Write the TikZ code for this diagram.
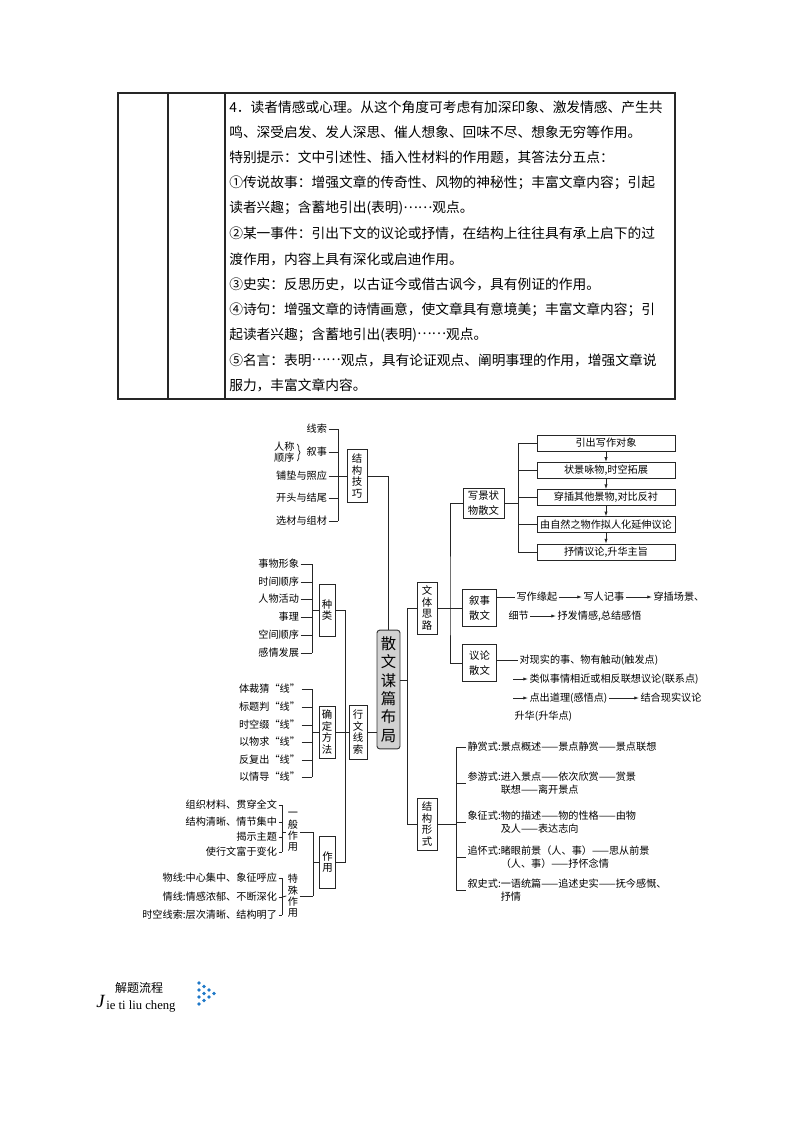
\documentclass[tikz,border=0pt]{standalone}
\usepackage{fontspec}
\setmainfont{Liberation Serif}
\newfontfamily\cjk{Noto Sans CJK SC}
\usetikzlibrary{positioning, arrows.meta, decorations.pathreplacing}
\definecolor{dotblue}{RGB}{30,120,200}
\newcommand\zhdots{\raisebox{0.33em}{……}}

\begin{document}
\begin{tikzpicture}[x=0.75pt, y=-0.75pt,
  tabline/.style={draw=black!85, line width=0.8pt},
  tabtext/.style={font=\cjk\fontsize{10.3}{12}\selectfont, inner sep=0pt, anchor=west},
  conn/.style={draw=black!85, line width=0.6pt},
  arr/.style={conn, -{Latex[length=3.5pt, width=2.4pt]}},
  leaf/.style={font=\cjk\fontsize{7.6}{9.75}\selectfont, inner sep=1pt, align=left},
  vtext/.style={font=\cjk\fontsize{7.6}{8.5}\selectfont, inner sep=1pt, align=center},
  vbox/.style={draw=black!85, line width=0.6pt, fill=white, inner sep=0pt,
               minimum width=12pt, minimum height=39pt, align=center,
               font=\cjk\fontsize{7.8}{8.8}\selectfont},
  wbox/.style={vbox, minimum width=15pt},
  hbox/.style={draw=black!85, line width=0.6pt, fill=white, inner sep=0pt, align=center,
               font=\cjk\fontsize{7.8}{11.2}\selectfont},
  stepbox/.style={hbox, minimum width=103.5pt, minimum height=12pt, font=\cjk\fontsize{7.6}{9}\selectfont},
  hub/.style={draw=black!80, line width=0.7pt, fill=black!18, rounded corners=2pt,
              minimum width=17.25pt, minimum height=89pt, inner sep=0pt, align=center,
              font=\cjk\fontsize{11.5}{13.7}\selectfont},
]

\useasboundingbox (0,0) rectangle (794,1123);

% Table
\draw[tabline] (118,93) rectangle (675,399);
\draw[tabline] (168,93) -- (168,399);
\draw[tabline] (225,93) -- (225,399);
\foreach \ln [count=\i] in {
  {4．读者情感或心理。从这个角度可考虑有加深印象、激发情感、产生共},
  {鸣、深受启发、发人深思、催人想象、回味不尽、想象无穷等作用。},
  {特别提示：文中引述性、插入性材料的作用题，其答法分五点：},
  {①传说故事：增强文章的传奇性、风物的神秘性；丰富文章内容；引起},
  {读者兴趣；含蓄地引出(表明)\zhdots 观点。},
  {②某一事件：引出下文的议论或抒情，在结构上往往具有承上启下的过},
  {渡作用，内容上具有深化或启迪作用。},
  {③史实：反思历史，以古证今或借古讽今，具有例证的作用。},
  {④诗句：增强文章的诗情画意，使文章具有意境美；丰富文章内容；引},
  {起读者兴趣；含蓄地引出(表明)\zhdots 观点。},
  {⑤名言：表明\zhdots 观点，具有论证观点、阐明事理的作用，增强文章说},
  {服力，丰富文章内容。}}
  \node[tabtext] (t\i) at (229, 82+25.3*\i) {\ln};

% Centre
\node[hub] (hub) at (388.5,689.5) {散\\文\\谋\\篇\\布\\局};

% Structure skills (top left)
\node[wbox, minimum height=40pt] (jgjq) at (357,476) {结\\构\\技\\巧};
\foreach \t/\y [count=\i] in {线索/429, 叙事/452, 铺垫与照应/476, 开头与结尾/498, 选材与组材/521}
  \node[leaf, anchor=east] (a\i) at (328.5,\y) {\t};
\node[vtext, anchor=east, font=\cjk\fontsize{7.6}{8.3}\selectfont] (rcsx) at (296,452.5) {人称\\顺序};
\draw[conn, decorate, decoration={brace, amplitude=2pt}]
  ([shift={(1pt,-2.5pt)}]rcsx.north east) -- ([shift={(1pt,2.5pt)}]rcsx.south east);
\coordinate (ab) at (338,476);
\foreach \n in {a1,a2,a3,a4,a5} \draw[conn] (\n.east) -- (\n.east -| ab);
\draw[conn] (a1.east -| ab) -- (a5.east -| ab);
\draw[conn] (ab) -- (jgjq.west);
\draw[conn] (jgjq.east) -| (hub.north);

% Kinds
\node[vbox] (zl) at (327,610) {种\\类};
\foreach \t/\y [count=\i] in {事物形象/564, 时间顺序/582, 人物活动/599, 事理/617, 空间顺序/635, 感情发展/653}
  \node[leaf, anchor=east] (b\i) at (300.5,\y) {\t};
\coordinate (bb) at (312,610);
\foreach \i in {1,...,6} \draw[conn] (b\i.east) -- (b\i.east -| bb);
\draw[conn] (b1.east -| bb) -- (b6.east -| bb);
\draw[conn] (bb) -- (zl.west);

% Methods
\node[vbox] (qdff) at (327,732) {确\\定\\方\\法};
\foreach \t/\y [count=\i] in {体裁猜“线”/689, 标题判“线”/707, 时空缀“线”/725, 以物求“线”/742, 反复出“线”/760, 以情导“线”/777}
  \node[leaf, anchor=east] (c\i) at (301.5,\y) {\t};
\coordinate (cb) at (312,732);
\foreach \i in {1,...,6} \draw[conn] (c\i.east) -- (c\i.east -| cb);
\draw[conn] (c1.east -| cb) -- (c6.east -| cb);
\draw[conn] (cb) -- (qdff.west);
\node[vbox, minimum width=13.5pt, minimum height=40.5pt] (xwxs) at (358,732) {行\\文\\线\\索};
\draw[conn] (qdff.east) -- (xwxs.west);
\draw[conn] (xwxs.east) -- (xwxs.east -| hub.west);

% Functions
\node[vbox] (zy) at (327.5,862) {作\\用};
\node[vtext] (ybzy) at (293,832) {一\\般\\作\\用};
\node[vtext] (tszy) at (293,896) {特\\殊\\作\\用};
\foreach \t/\y [count=\i] in {组织材料、贯穿全文/805, 结构清晰、情节集中/822, 揭示主题/837, 使行文富于变化/852}
  \node[leaf, anchor=east] (d\i) at (278.5,\y) {\t};
\foreach \t/\y [count=\i] in {物线:中心集中、象征呼应/878, 情线:情感浓郁、不断深化/897, 时空线索:层次清晰、结构明了/915}
  \node[leaf, anchor=east] (e\i) at (278.5,\y) {\t};
\coordinate (db) at (282,832);
\coordinate (eb) at (282,897);
\foreach \n in {d1,d2,d3,d4} \draw[conn] (\n.east) -- (\n.east -| db);
\foreach \n in {e1,e2,e3} \draw[conn] (\n.east) -- (\n.east -| eb);
\draw[conn] (d1.east -| db) -- (d4.east -| db);
\draw[conn] (e1.east -| eb) -- (e3.east -| eb);
\draw[conn] (db) -- (ybzy.west);
\draw[conn] (eb) -- (tszy.west);
\coordinate (zb) at (313,862);
\draw[conn] (ybzy.east) -- (ybzy.east -| zb);
\draw[conn] (tszy.east) -- (tszy.east -| zb);
\draw[conn] (ybzy.east -| zb) -- (tszy.east -| zb);
\draw[conn] (zb) -- (zy.west);

% Left spine
\coordinate (lb) at (345,610);
\draw[conn] (zl.east) -- (lb) -- (lb |- zy.east) -- (zy.east);

% Right side
\coordinate (rb) at (407,680);
\draw[conn] (hub.east |- rb) -- (rb);
\node[wbox] (wtsl) at (427,608) {文\\体\\思\\路};
\node[wbox] (jgxs) at (427,824) {结\\构\\形\\式};
\draw[conn] (wtsl.west) -- (wtsl.west -| rb) -- (jgxs.west -| rb) -- (jgxs.west);

\node[hbox, minimum width=30.75pt, minimum height=22.5pt] (xjzw) at (483.5,503) {写景状\\物散文};
\node[hbox, minimum width=26pt, minimum height=28pt] (xsse) at (479.5,608) {叙事\\散文};
\node[hbox, minimum width=26pt, minimum height=28pt] (ylse) at (479.5,663) {议论\\散文};
\coordinate (wb) at (450,608);
\draw[conn] (wtsl.east) -- (xsse.west);
\draw[conn] (xjzw.west) -| (wb) |- (ylse.west);

% Scenery essay steps
\foreach \t [count=\i] in {引出写作对象, {状景咏物,时空拓展}, {穿插其他景物,对比反衬}, 由自然之物作拟人化延伸议论, {抒情议论,升华主旨}}
  \node[stepbox] (s\i) at (606, 443+27.25*\i-27.25) {\t};
\foreach \i/\j in {1/2, 2/3, 3/4, 4/5} \draw[arr] (s\i) -- (s\j);
\coordinate (sb) at (518,503);
\draw[conn] (xjzw.east) -- (sb);
\draw[conn] (s1.west -| sb) -- (s5.west -| sb);
\foreach \i in {1,...,5} \draw[conn] (s\i.west -| sb) -- (s\i.west);

% Narrative essay
\node[leaf, anchor=west] (n1) at (515,597) {写作缘起};
\node[leaf, anchor=west] (n2) at (582,597) {写人记事};
\node[leaf, anchor=west] (n3) at (652,597) {穿插场景、};
\node[leaf, anchor=west] (n4) at (507,616) {细节};
\node[leaf, anchor=west] (n5) at (556,616) {抒发情感,总结感悟};
\draw[conn] (xsse.east |- n1) -- (n1.west);
\draw[arr] (n1) -- (n2);
\draw[arr] (n2) -- (n3);
\draw[arr] (n4) -- (n5);

% Argument essay
\node[leaf, anchor=west] (g1) at (518,660) {对现实的事、物有触动(触发点)};
\node[leaf, anchor=west] (g2) at (528,679) {类似事情相近或相反联想议论(联系点)};
\node[leaf, anchor=west] (g3) at (528,698) {点出道理(感悟点)};
\node[leaf, anchor=west] (g4) at (639,698) {结合现实议论};
\node[leaf, anchor=west] (g5) at (513,716) {升华(升华点)};
\coordinate (g2s) at (513,679);
\coordinate (g3s) at (513,698);
\draw[conn] (ylse.east |- g1) -- (g1.west);
\draw[arr] (g2s) -- (g2.west);
\draw[arr] (g3s) -- (g3.west);
\draw[arr] (g3) -- (g4);

% Structural forms
\coordinate (fb) at (456,824);
\node[leaf, anchor=west] (f1) at (466,747) {静赏式:景点概述——景点静赏——景点联想};
\node[leaf, anchor=west] (f2) at (466,783.5) {参游式:进入景点——依次欣赏——赏景\\\hphantom{参游式:}联想——离开景点};
\node[leaf, anchor=west] (f3) at (466,822.5) {象征式:物的描述——物的性格——由物\\\hphantom{象征式:}及人——表达志向};
\node[leaf, anchor=west] (f4) at (466,857.5) {追怀式:睹眼前景（人、事）——思从前景\\\hphantom{追怀式:}（人、事）——抒怀念情};
\node[leaf, anchor=west] (f5) at (466,890.5) {叙史式:一语统篇——追述史实——抚今感慨、\\\hphantom{叙史式:}抒情};
\draw[conn] (jgxs.east) -- (fb);
\draw[conn] (f1.west -| fb) -- (f5.west -| fb);
\foreach \i in {1,...,5} \draw[conn] (f\i.west -| fb) -- (f\i.west);

% Footer label
\node[font=\cjk\fontsize{9}{9}\selectfont, inner sep=0pt] (jtlc) at (139,988) {解题流程};
\node[font=\fontsize{9.5}{9.5}\selectfont, anchor=base west, inner sep=0pt] (pinyin) at (106,1009) {ie ti liu cheng};
\node[font=\itshape\fontsize{14}{14}\selectfont, anchor=base east, inner sep=0pt] (bigj) at (105,1007) {J};
\foreach \c/\n in {0/4, 1/3, 2/2, 3/1}
  \foreach \r in {1,...,\n}
    \fill[dotblue] (199+5*\c, 983+3.5*\c+7*\r-7) circle (1.4pt);

\end{tikzpicture}
\end{document}
